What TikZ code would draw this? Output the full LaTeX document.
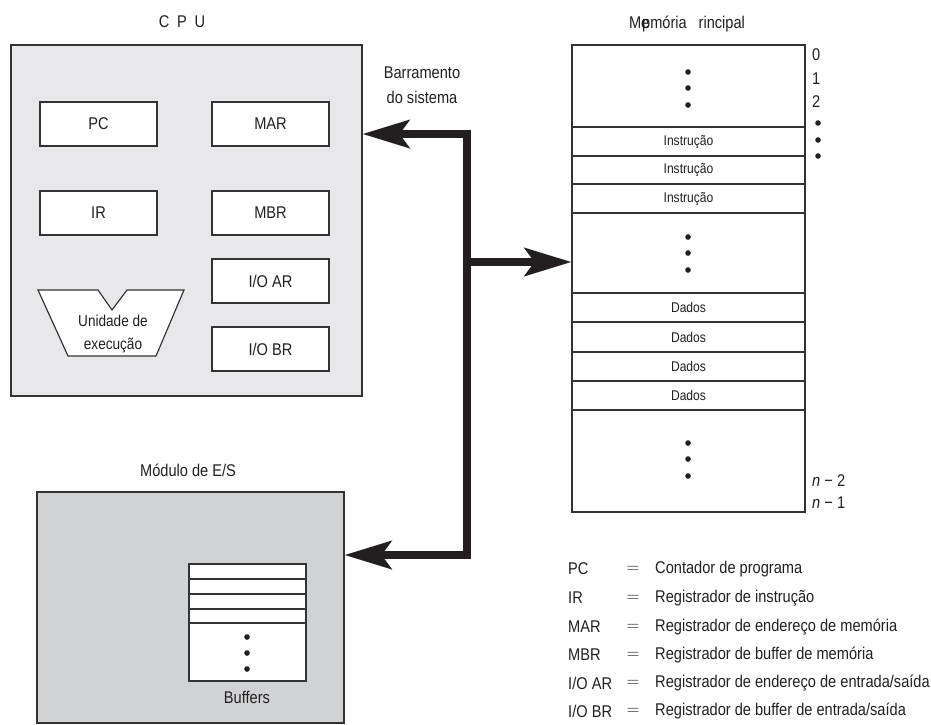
\documentclass[tikz,border=0pt]{standalone}
\usepackage{fontspec}
\setmainfont{Liberation Sans}[FakeStretch=0.86]
\usetikzlibrary{arrows.meta,fit}
\definecolor{cpufill}{HTML}{E8E8EA}
\definecolor{iofill}{HTML}{D1D2D4}
\definecolor{edge}{HTML}{333333}
\definecolor{ink}{HTML}{231F20}

\begin{document}
\begin{tikzpicture}[x=0.03cm,y=-0.03cm,
  frame/.style={draw=edge, line width=1pt, inner sep=0pt},
  reg/.style={frame, fill=white},
  lbl/.style={inner sep=0pt, text=ink, font=\fontsize{14.5}{18}\selectfont},
  small/.style={inner sep=0pt, text=ink, font=\fontsize{12}{14}\selectfont},
  bus/.style={draw=ink, line width=6pt, line join=miter},
  tip/.tip={Stealth[length=40pt,width=24pt,inset=8.5pt]},
  dot/.style={circle, fill=ink, inner sep=0pt, minimum size=4.8pt},
]
\useasboundingbox (0,0) rectangle (931,724);

% ---------- CPU ----------
\node[lbl] (cputitle) at (182,22) {C\hspace{0.45em}P\hspace{0.45em}U};
\node[frame, fill=cpufill, fit={(11,45)(362,396)}] (cpu) {};
\node[reg, fit={(40,102)(157,146)}] (pc) {};
\node[lbl] (pctxt) at (pc) {PC};
\node[reg, fit={(212,102)(329,146)}] (mar) {};
\node[lbl] (martxt) at (mar) {MAR};
\node[reg, fit={(40,191)(157,235)}] (ir) {};
\node[lbl] (irtxt) at (ir) {IR};
\node[reg, fit={(212,191)(329,235)}] (mbr) {};
\node[lbl] (mbrtxt) at (mbr) {MBR};
\node[reg, fit={(212,259)(329,303)}] (ioar) {};
\node[lbl] (ioartxt) at (ioar) {I/O AR};
\node[reg, fit={(212,327)(329,371)}] (iobr) {};
\node[lbl] (iobrtxt) at (iobr) {I/O BR};
% execution unit (notched trapezoid)
\draw[frame, fill=white] (38,290) -- (98,290) -- (112,310) -- (127,290)
  -- (184,290) -- (156,356) -- (68,356) -- cycle;
\node[lbl, align=center, font=\fontsize{13.5}{19}\selectfont] (eu) at (113,334)
  {Unidade de\\execução};

% ---------- Main memory ----------
\node[lbl] (memtitle) at (687,24) {Me\kern-0.42em pmória\hspace{0.7em}rincipal};
\node[frame, fill=white, fit={(572,45)(805,512)}] (mem) {};
\foreach \t/\b [count=\k] in {127/156,156/184,184/213}{
  \node[frame, fit={(572,\t)(805,\b)}] (ins\k) {};
  \node[small] (ins\k txt) at (ins\k) {Instrução};
}
\foreach \t/\b [count=\k] in {293/322,322/352,352/381,381/410}{
  \node[frame, fit={(572,\t)(805,\b)}] (dat\k) {};
  \node[small] (dat\k txt) at (dat\k) {Dados};
}
\foreach \y in {72,88,105,237,253,270,443,459,476}
  \node[dot] (md\y) at (688,\y) {};
% addresses
\node[lbl, anchor=west] (a0) at (812,55) {0};
\node[lbl, anchor=west] (a1) at (812,79) {1};
\node[lbl, anchor=west] (a2) at (812,102) {2};
\foreach \y in {123,140,156}
  \node[dot] (ad\y) at (818,\y) {};
\node[lbl, anchor=west] (an2) at (812,481) {\textit{n} − 2};
\node[lbl, anchor=west] (an1) at (812,503) {\textit{n} − 1};

% ---------- I/O module ----------
\node[lbl] (iotitle) at (188,470) {Módulo de E/S};
\node[frame, fill=iofill, fit={(37,492)(344,723)}] (io) {};
\node[frame, fill=white, fit={(189,564)(306,681)}] (buf) {};
\foreach \y [count=\k] in {579,594,609,623}
  \draw[edge, line width=1pt] (buf.west |- 0,\y) coordinate (bl\k) -- (buf.east |- 0,\y);
\foreach \y in {637,653,669}
  \node[dot] (bd\y) at (247,\y) {};
\node[lbl] (buftxt) at (247,697) {Buffers};

% ---------- System bus ----------
\node[lbl, align=center, font=\fontsize{14.5}{21.3}\selectfont] (bustxt) at (422,85)
  {Barramento\\do sistema};
\coordinate (bt) at (467,134);
\coordinate (bm) at (467,262);
\coordinate (bb) at (467,555);
\draw[bus, tip-tip] (cpu.east |- bt) -- (bt) -- (bb) -- (io.east |- bb);
\draw[bus, -tip] (bm) -- (mem.west |- bm);

% ---------- Legend ----------
\node[lbl, anchor=west] (k1) at (568,569) {PC};
\node[lbl, anchor=west] (k2) at (568,598) {IR};
\node[lbl, anchor=west] (k3) at (568,627) {MAR};
\node[lbl, anchor=west] (k4) at (568,655) {MBR};
\node[lbl, anchor=west] (k5) at (568,683) {I/O AR};
\node[lbl, anchor=west] (k6) at (568,711) {I/O BR};
\foreach \k in {1,...,6}
  \node[lbl] (e\k) at (633,0 |- k\k) {$=$};
\node[lbl, anchor=west] (d1) at (655,569) {Contador de programa};
\node[lbl, anchor=west] (d2) at (655,598) {Registrador de instrução};
\node[lbl, anchor=west] (d3) at (655,627) {Registrador de endereço de memória};
\node[lbl, anchor=west] (d4) at (655,655) {Registrador de buffer de memória};
\node[lbl, anchor=west] (d5) at (655,683) {Registrador de endereço de entrada/saída};
\node[lbl, anchor=west] (d6) at (655,711) {Registrador de buffer de entrada/saída};
\end{tikzpicture}
\end{document}
